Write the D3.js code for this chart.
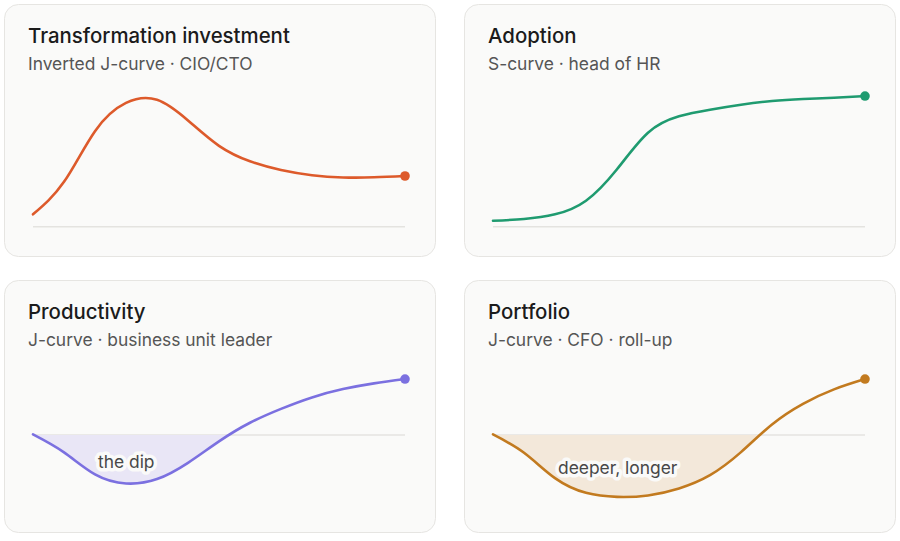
<!DOCTYPE html>
<html>
<head>
<meta charset="utf-8">
<script src="https://d3js.org/d3.v7.min.js"></script>
<style>
	body { margin: 0; background: #ffffff; }
	svg { display: block; font-family: Inter, "Noto Sans", sans-serif; }
</style>
</head>
<body>
<div id="chart"></div>
<script>
// Chart data (arbitrary index units)
const periods = [0, 1, 2, 3, 4, 5, 6, 7, 8, 9, 10, 11, 12];
const investment = [9.5, 34.5, 73.5, 95.2, 97.6, 81.7, 62.2, 50.3, 43.6, 39.6, 37.9, 38.0, 39.0];
const adoption = [4.6, 5.9, 9.5, 20.0, 44.2, 72.3, 84.9, 90.0, 93.8, 96.7, 98.2, 99.2, 100.5];
const productivity = [0.5, -13.3, -30.2, -37.2, -33.8, -21.3, -4.8, 9.5, 20.2, 29.0, 35.4, 39.8, 43.1];
const portfolio = [0.5, -13.6, -33.1, -44.4, -47.5, -46.4, -41.0, -30.8, -13.1, 8.2, 24.1, 35.2, 43.1];

const titles = ['Transformation investment', 'Adoption', 'Productivity', 'Portfolio'];
const subtitles = ['Inverted J-curve · CIO/CTO', 'S-curve · head of HR', 'J-curve · business unit leader', 'J-curve · CFO · roll-up'];
const dipLabels = [null, null, 'the dip', 'deeper, longer'];
const seriesList = [investment, adoption, productivity, portfolio];

// Styling
const lineColours = ['#dd5a2b', '#1f9b70', '#7b70e0', '#c27a1f'];
const fillColours = [null, null, '#e9e6f6', '#f3e8da'];
const cardFill = '#fafaf9';

const width = 900, height = 541;
const cardW = 431, cardH = 252;
const cardOrigins = [[4, 4], [464, 4], [4, 280], [464, 280]];
const plot = { left: 29, right: 401, top: 92.7, bottom: 222.7 };

const svg = d3.select('#chart').append('svg')
	.attr('width', width)
	.attr('height', height);

const panels = svg.selectAll('g.panel')
	.data(seriesList.map((values, i) => ({ values, i })))
.join('g')
	.attr('class', 'panel')
	.attr('transform', d => 'translate(' + cardOrigins[d.i][0] + ',' + cardOrigins[d.i][1] + ')');

// Cards
panels.append('rect')
	.attr('x', 0.5)
	.attr('y', 0.5)
	.attr('width', cardW)
	.attr('height', cardH)
	.attr('rx', 14)
	.attr('fill', cardFill)
	.attr('stroke', '#e6e5e2')
	.attr('stroke-width', 1);

// Titles
panels.append('text')
	.attr('x', 24)
	.attr('y', 38.5)
	.attr('fill', '#1b1b1b')
	.style('font-size', '20.4px')
	.style('font-weight', 500)
	.text(d => titles[d.i]);

panels.append('text')
	.attr('x', 24)
	.attr('y', 65.5)
	.attr('fill', '#555555')
	.style('font-size', '17.4px')
	.text(d => subtitles[d.i]);

// Each panel gets its own scales
panels.each(function(d) {
	const g = d3.select(this);
	const values = d.values;
	const hasDip = d3.min(values) < 0;

	const x = d3.scaleLinear()
		.domain(d3.extent(periods))
		.range([plot.left, plot.right]);

	const y = d3.scaleLinear()
		.domain(hasDip ? [-52, 48] : [0, 100])
		.range([plot.bottom, plot.top]);

	const points = periods.map((p, k) => ({ p, v: values[k] }));
	const curve = d3.curveNatural;

	// Zero line
	g.append('line')
		.attr('x1', x(periods[0]))
		.attr('x2', x(periods[periods.length - 1]))
		.attr('y1', y(0))
		.attr('y2', y(0))
		.attr('stroke', '#e4e3e0')
		.attr('stroke-width', 1.5);

	// Shade the part below zero: area to the zero line, clipped to below it
	if (hasDip) {
		const clipId = 'below-zero-' + d.i;
		g.append('clipPath')
			.attr('id', clipId)
		.append('rect')
			.attr('x', x(periods[0]))
			.attr('y', y(0))
			.attr('width', x(periods[periods.length - 1]) - x(periods[0]))
			.attr('height', plot.bottom - y(0) + 20);

		const area = d3.area()
			.x(pt => x(pt.p))
			.y0(y(0))
			.y1(pt => y(pt.v))
			.curve(curve);

		g.append('path')
			.attr('d', area(points))
			.attr('clip-path', 'url(#' + clipId + ')')
			.attr('fill', fillColours[d.i]);
	}

	const line = d3.line()
		.x(pt => x(pt.p))
		.y(pt => y(pt.v))
		.curve(curve);

	g.append('path')
		.attr('d', line(points))
		.attr('fill', 'none')
		.attr('stroke', lineColours[d.i])
		.attr('stroke-width', 2.6)
		.attr('stroke-linecap', 'round');

	const last = points[points.length - 1];
	g.append('circle')
		.attr('cx', x(last.p))
		.attr('cy', y(last.v))
		.attr('r', 4.8)
		.attr('fill', lineColours[d.i]);

	// Dip annotation, haloed in the card colour so it cuts the line
	if (dipLabels[d.i]) {
		const lowest = d3.min(values);
		g.append('text')
			.attr('x', x(periods[2]) + 3)
			.attr('y', (y(0) + y(lowest)) / 2)
			.attr('dy', '0.48em')
			.attr('fill', '#484848')
			.attr('stroke', cardFill)
			.attr('stroke-width', 7)
			.attr('paint-order', 'stroke')
			.attr('stroke-linejoin', 'round')
			.style('font-size', '17.4px')
			.text(dipLabels[d.i]);
	}
});
</script>
</body>
</html>
